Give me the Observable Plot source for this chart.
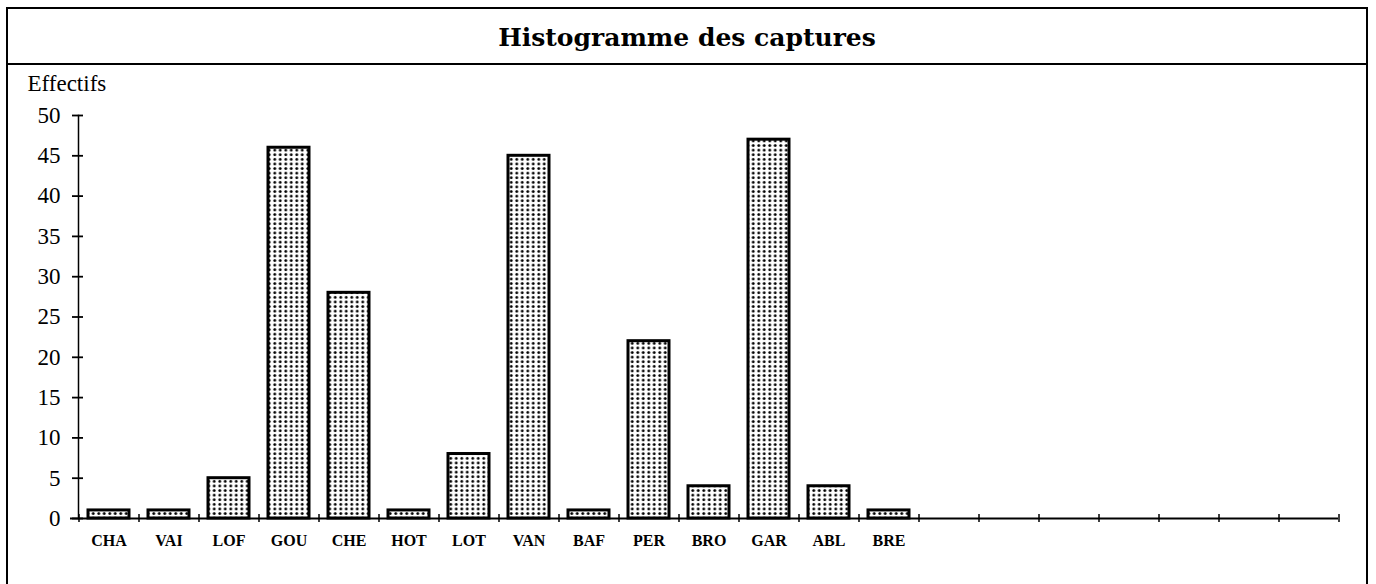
<!DOCTYPE html>
<html>
<head>
<meta charset="utf-8">
<script src="https://cdn.jsdelivr.net/npm/d3@7"></script>
<script src="https://cdn.jsdelivr.net/npm/@observablehq/plot@0.6"></script>
<style>
  html, body { margin: 0; padding: 0; background: #fff; overflow: hidden; }
  #box {
    position: absolute; left: 6px; top: 7px; width: 1358px; height: 577px;
    border: 2px solid #000; border-bottom: none; box-sizing: content-box;
  }
  #title {
    height: 54px; line-height: 58px; border-bottom: 2px solid #000;
    text-align: center; font-family: "DejaVu Serif", serif; font-size: 25px; font-weight: bold; color: #000;
  }
  #chart svg { display: block; }
</style>
</head>
<body>
<div id="box">
  <div id="title">Histogramme des captures</div>
  <div id="chart"></div>
</div>
<script>
const categories = ["CHA","VAI","LOF","GOU","CHE","HOT","LOT","VAN","BAF","PER","BRO","GAR","ABL","BRE"];
const values = [1, 1, 5, 46, 28, 1, 8, 45, 1, 22, 4, 47, 4, 1];
const emptySlots = ["_1","_2","_3","_4","_5","_6","_7"];
const yTicks = [0, 5, 10, 15, 20, 25, 30, 35, 40, 45, 50];
const yLabel = "Effectifs";

const data = categories.map((c, i) => ({cat: c, n: values[i]}));
const slots = [...categories, ...emptySlots];

const W = 1358, H = 519, ML = 70, MR = 28, MT = 50, MB = 66;
const step = (W - ML - MR) / slots.length;
const font = "Liberation Serif";

const plot = Plot.plot({
  width: W, height: H,
  marginLeft: ML, marginRight: MR, marginTop: MT, marginBottom: MB,
  style: {fontFamily: font, color: "#000", background: "#fff", overflow: "visible"},
  x: {domain: slots, paddingInner: 0.32, paddingOuter: 0.16, axis: null},
  y: {domain: [0, 50], axis: null},
  marks: [
    Plot.barY(data, {x: "cat", y: "n", fill: "url(#dots)", stroke: "#000", strokeWidth: 3}),
    Plot.frame({anchor: "left", stroke: "#000", strokeWidth: 1.5}),
    Plot.ruleY([0], {stroke: "#000", strokeWidth: 2, insetLeft: -8}),
    Plot.axisY({ticks: yTicks, tickSize: 11, dx: 5, tickFormat: () => "", strokeWidth: 1.8, label: null}),
    Plot.axisY({ticks: yTicks, tickSize: 0, tickPadding: 18, fontSize: 23, tickFormat: d => String(d), label: null}),
    Plot.axisX({ticks: slots, tickSize: 8, dx: -step / 2, dy: -4, tickFormat: () => "", strokeWidth: 1.5, label: null}),
    Plot.axisX({ticks: [slots[slots.length - 1]], tickSize: 8, dx: step / 2, dy: -4, tickFormat: () => "", strokeWidth: 1.5, label: null}),
    Plot.axisX({ticks: categories, tickSize: 0, tickPadding: 16, fontSize: 16, fontWeight: "bold", tickFormat: d => d, label: null}),
    Plot.text([yLabel], {frameAnchor: "top-left", text: d => d, dx: -51, dy: -25, fontSize: 23, textAnchor: "start", lineAnchor: "bottom"})
  ]
});

const defs = d3.select(plot).insert("defs", ":first-child");
const pat = defs.append("pattern").attr("id", "dots")
  .attr("patternUnits", "userSpaceOnUse").attr("width", 5.5).attr("height", 4.6);
pat.append("rect").attr("width", 5.5).attr("height", 4.6).attr("fill", "#fff");
pat.append("circle").attr("cx", 2.75).attr("cy", 2.3).attr("r", 1.45).attr("fill", "#000");

document.getElementById("chart").appendChild(plot);
</script>
</body>
</html>
